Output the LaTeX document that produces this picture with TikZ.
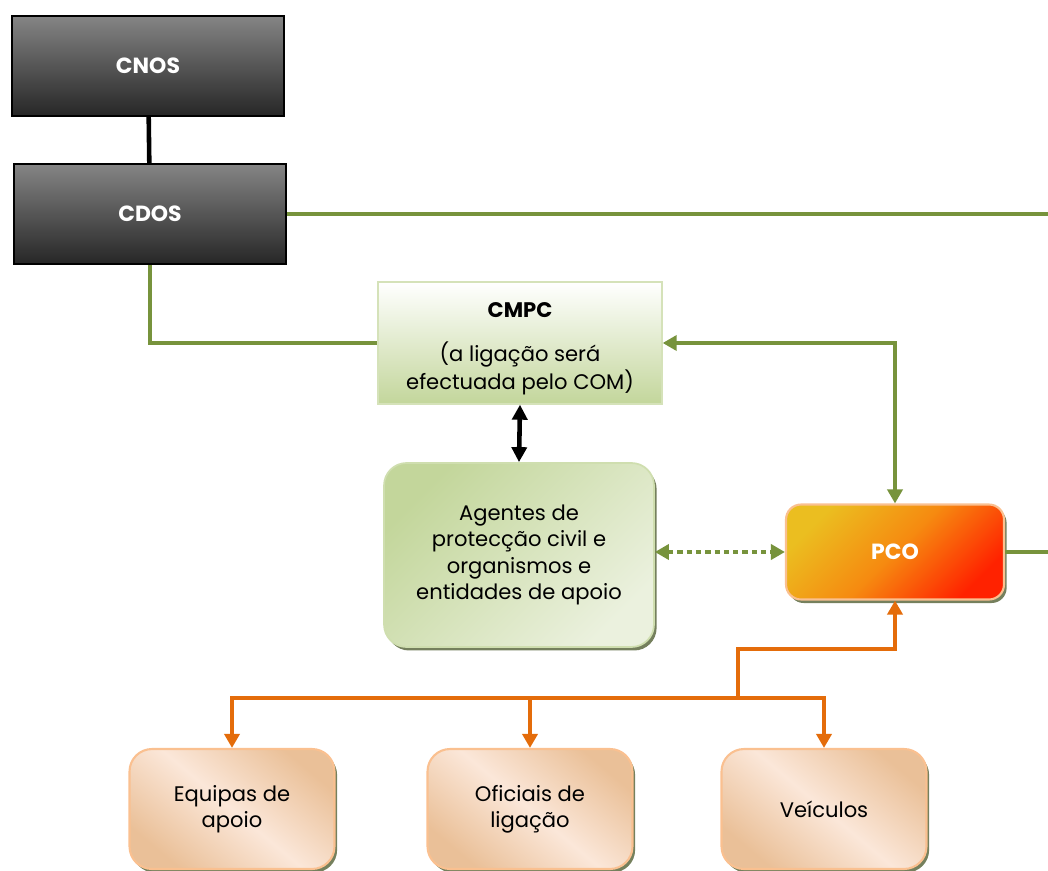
\documentclass[tikz,border=0pt]{standalone}
\usepackage{fontspec}
\setmainfont{Poppins}
\usetikzlibrary{arrows.meta,shadows}

\definecolor{lgreen}{HTML}{77933C}
\definecolor{lorange}{HTML}{E46C0A}
\definecolor{pgreen}{HTML}{C3D69B}
\definecolor{pgreenlight}{HTML}{EBF1DE}
\definecolor{peach}{HTML}{FAC090}
\definecolor{peachdark}{HTML}{EAC098}
\definecolor{peachlight}{HTML}{FBE7D9}
\definecolor{pcoyellow}{HTML}{EBBE20}
\definecolor{pcomid}{HTML}{F68A10}
\definecolor{pcored}{HTML}{FF2200}

\tikzset{
  darkbox/.style={draw=black, line width=1.2pt, top color=black!48, bottom color=black!85,
    text=white, font=\bfseries\fontsize{12.5}{15}\selectfont,
    minimum width=5.44cm, minimum height=2cm},
  cmpcbox/.style={draw=pgreen!70!white, line width=0.8pt, top color=white, bottom color=pgreen,
    align=center, font=\fontsize{12}{15.9}\selectfont,
    minimum width=5.68cm, minimum height=2.44cm},
  agbox/.style={draw=pgreen!80!white, line width=1pt, rounded corners=0.45cm,
    left color=pgreen, right color=pgreenlight, shading angle=45,
    drop shadow={shadow xshift=1.5pt, shadow yshift=-2pt, fill=black!40!pgreen, opacity=1},
    align=center, font=\fontsize{12}{14.9}\selectfont,
    minimum width=5.4cm, minimum height=3.68cm},
  pcobox/.style={draw=peach, line width=1.2pt, rounded corners=0.3cm,
    left color=pcoyellow, right color=pcored, middle color=pcomid, shading angle=45,
    drop shadow={shadow xshift=1.5pt, shadow yshift=-2pt, fill=black!40!pgreen, opacity=1},
    text=white, font=\bfseries\fontsize{12.5}{15}\selectfont,
    minimum width=4.36cm, minimum height=1.9cm},
  subbox/.style={draw=peach, line width=1.2pt, rounded corners=0.45cm,
    top color=peachdark, bottom color=peachdark, middle color=peachlight, shading angle=-40,
    drop shadow={shadow xshift=1.5pt, shadow yshift=-2pt, fill=black!40!pgreen, opacity=1},
    align=center, font=\fontsize{12}{14.9}\selectfont,
    minimum width=4.1cm, minimum height=2.4cm},
  gline/.style={draw=lgreen, line width=2.3pt},
  oline/.style={draw=lorange, line width=2.3pt},
  gtip/.style={-{Triangle[length=0.28cm, width=0.3cm]}},
}

\begin{document}
\begin{tikzpicture}[x=0.02cm, y=-0.02cm]
\useasboundingbox (0,0) rectangle (1048,871);

\node [darkbox] (cnos) at (148,66) {CNOS};
\node [darkbox] (cdos) at (150,214) {CDOS};
\node [cmpcbox] (cmpc) at (520,343) {\rule{0pt}{15pt}\textbf{CMPC}\\[9pt](a ligação será\\efectuada pelo COM)};
\node [agbox] (agentes) at (519,555) {Agentes de\\protecção civil e\\organismos e\\entidades de apoio};
\node [pcobox] (pco) at (895,552) {PCO};
\node [subbox] (equipas) at (232,809) {Equipas de\\apoio};
\node [subbox] (oficiais) at (530,809) {Oficiais de\\ligação};
\node [subbox] (veiculos) at (824,809) {Veículos};

\coordinate (edge1) at (1048,214);
\coordinate (edge2) at (1048,552);
\coordinate (fork) at (738,698);
\coordinate (bend) at (738,649);

% top
\draw [line width=2.6pt] (cnos) -- (cdos);
\draw [gline] (cdos.east) -- (edge1);
\draw [gline] (cdos.south) |- (cmpc.west);
\draw [gline, {Triangle[length=0.28cm, width=0.3cm]}-{Triangle[length=0.28cm, width=0.3cm]}] (cmpc.east) -| (pco.north);

% middle
\draw [line width=2.6pt, {Triangle[length=0.3cm, width=0.3cm]}-{Triangle[length=0.3cm, width=0.3cm]}] (cmpc.south) -- (agentes.north);
\draw [gline, dash pattern=on 3pt off 2.3pt, {Triangle[length=0.28cm, width=0.3cm]}-{Triangle[length=0.28cm, width=0.3cm]}] (agentes.east |- pco.west) -- (pco.west);
\draw [gline] (pco.east) -- (edge2);

% bottom
\draw [oline, gtip] (fork) -- (bend) -| (pco.south);
\draw [oline, gtip] (fork) -| (equipas.north);
\draw [oline, gtip] (fork) -| (oficiais.north);
\draw [oline, gtip] (fork) -| (veiculos.north);

\end{tikzpicture}
\end{document}
